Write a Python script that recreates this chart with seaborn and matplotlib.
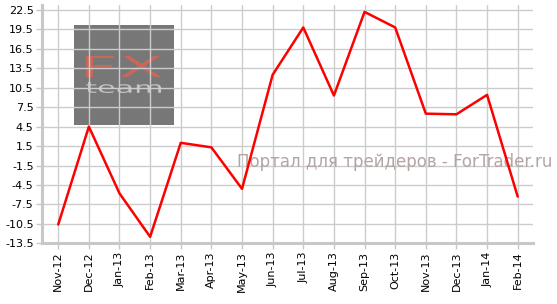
import matplotlib
matplotlib.use("Agg")
import matplotlib.pyplot as plt
import seaborn as sns
import numpy as np
import pandas as pd
from matplotlib.patches import Rectangle, PathPatch
from matplotlib.textpath import TextPath
from matplotlib.font_manager import FontProperties
from matplotlib.transforms import Affine2D, IdentityTransform

months = ["Nov-12", "Dec-12", "Jan-13", "Feb-13", "Mar-13", "Apr-13", "May-13", "Jun-13",
          "Jul-13", "Aug-13", "Sep-13", "Oct-13", "Nov-13", "Dec-13", "Jan-14", "Feb-14"]
values = [-10.6, 4.5, -5.8, -12.5, 2.0, 1.3, -5.1, 12.5,
          19.8, 9.3, 22.2, 19.8, 6.5, 6.4, 9.4, -6.3]
yticks = [-13.5, -10.5, -7.5, -4.5, -1.5, 1.5, 4.5, 7.5, 10.5, 13.5, 16.5, 19.5, 22.5]

sns.set_style("white")
plt.rcParams['font.family'] = ['DejaVu Sans']

df = pd.DataFrame({"idx": np.arange(len(months)), "value": values})

W, H = 557.0, 304.0
fig = plt.figure(figsize=(W / 100, H / 100), dpi=100)
ax = fig.add_axes([0.0754, 0.1997, 0.881, 0.784])

# watermark logo (figure pixels measured from top)
rect = Rectangle((74 / W, 1 - 125 / H), 100 / W, 100 / H, transform=fig.transFigure,
                 facecolor="#777777", edgecolor="none", zorder=0.2)
ax.add_patch(rect)


def boxed_text(s, x0, y0, x1, y1, color, weight="normal"):
    tp = TextPath((0, 0), s, size=20, prop=FontProperties(family="DejaVu Sans", weight=weight))
    bb = tp.get_extents()
    sx = (x1 - x0) / bb.width
    sy = (y1 - y0) / bb.height
    tr = Affine2D().translate(-bb.x0, -bb.y0).scale(sx, sy).translate(x0, H - y1)
    path = tr.transform_path(tp)
    p = PathPatch(path, facecolor=color, edgecolor="none", transform=IdentityTransform(),
                  zorder=0.3, clip_on=False)
    ax.add_patch(p)


boxed_text("F", 86, 56, 114, 77, "#c8685a")
boxed_text("X", 121, 56, 161, 77, "#c8685a")
boxed_text("team", 86, 82, 161, 93, "#c4c4c4")

sns.lineplot(data=df, x="idx", y="value", ax=ax, color="#ff0000", linewidth=1.8, zorder=3)

ax.set_axisbelow(True)
ax.grid(True, color="#cccccc", linewidth=1.0)
ax.set_xlim(-0.53, 15.49)
ax.set_ylim(-13.5, 23.27)
ax.set_xticks(np.arange(len(months)))
ax.set_xticklabels(months, rotation=90, fontsize=8)
ax.set_yticks(yticks)
ax.set_yticklabels([f"{t:.1f}" for t in yticks], fontsize=8)
ax.set_xlabel("")
ax.set_ylabel("")

for s in ["top", "right"]:
    ax.spines[s].set_visible(False)
for s in ["left", "bottom"]:
    ax.spines[s].set_color("#c8c8c8")
    ax.spines[s].set_linewidth(2.2)
ax.tick_params(axis="both", which="both", length=4, width=1, color="#c8c8c8",
               labelcolor="black", pad=2, direction="out")
ax.tick_params(left=True, bottom=True)

ax.text(395 / W, 1 - 162 / H, "Портал для трейдеров - ForTrader.ru", transform=fig.transFigure,
        ha="center", va="center", fontsize=12, color="#b4a4a4", zorder=2)

fig.savefig("out.png", dpi=100)
